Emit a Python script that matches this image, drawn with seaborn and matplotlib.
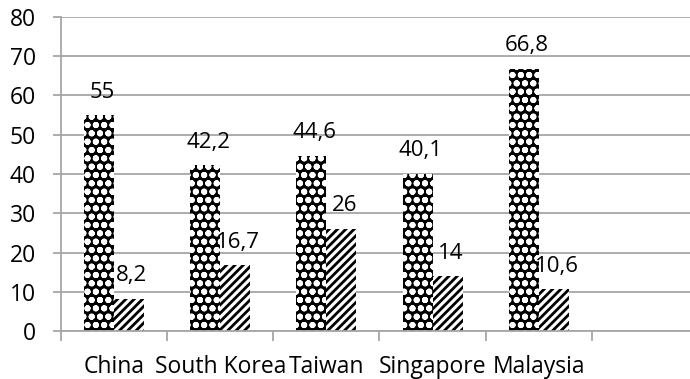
import matplotlib
matplotlib.use("Agg")
import matplotlib.pyplot as plt
import seaborn as sns
import pandas as pd
import numpy as np

# Data
countries = ["China", "South Korea", "Taiwan", "Singapore", "Malaysia", ""]
series_1 = [55, 42.2, 44.6, 40.1, 66.8]
series_2 = [8.2, 16.7, 26, 14, 10.6]
y_ticks = [0, 10, 20, 30, 40, 50, 60, 70, 80]

df = pd.DataFrame({
    "country": countries[:5] * 2,
    "value": series_1 + series_2,
    "series": ["Series 1"] * 5 + ["Series 2"] * 5,
})

sns.set_theme(style="white")
plt.rcParams["font.family"] = ["Open Sans", "DejaVu Sans"]
plt.rcParams["hatch.linewidth"] = 2.0

grid_col = "#a6a6a6"
fs = 16.5

fig = plt.figure(figsize=(6.9, 3.79), dpi=100)
ax = fig.add_axes([61 / 690, 1 - 331 / 379, 637 / 690, (331 - 17) / 379])

sns.barplot(data=df, x="country", y="value", hue="series", order=countries,
            hue_order=["Series 1", "Series 2"], width=0.565,
            palette=["black", "white"], legend=False, ax=ax, saturation=1)

# Pattern fills: dotted checker on the first series, diagonal stripes on the second
for container, face, hatch_col, hatch in zip(ax.containers,
                                             ["black", "white"],
                                             ["white", "black"],
                                             ["oo", "////"]):
    for bar in container:
        bar.set_facecolor(face)
        bar.set_edgecolor(hatch_col)
        bar.set_hatch(hatch)
        bar.set_linewidth(0)
        h = bar.get_height()
        ax.annotate(("%g" % h).replace(".", ","),
                    xy=(bar.get_x() + bar.get_width() / 2, h),
                    xytext=(2, 9), textcoords="offset points",
                    ha="center", va="bottom", fontsize=16, color="black")

ax.set_xlim(-0.5, 5.5)
ax.set_ylim(0, 80)
ax.set_yticks(y_ticks)
ax.set_yticklabels([str(t) for t in y_ticks], fontsize=fs)
ax.set_xticks(range(6))
ax.set_xticklabels(countries, fontsize=fs)
ax.set_xticks(np.arange(-0.5, 6.0, 1.0), minor=True)
ax.set_xlabel("")
ax.set_ylabel("")

ax.yaxis.grid(True, color=grid_col, linewidth=1.3)
ax.set_axisbelow(True)
for side in ["top", "right"]:
    ax.spines[side].set_visible(False)
for side in ["left", "bottom"]:
    ax.spines[side].set_color(grid_col)
    ax.spines[side].set_linewidth(1.3)

ax.tick_params(axis="y", which="major", length=6, width=1.3, color=grid_col,
               pad=12, left=True, labelcolor="black")
ax.tick_params(axis="x", which="major", length=0, pad=17, labelcolor="black")
ax.tick_params(axis="x", which="minor", length=7, width=1.3, color=grid_col,
               bottom=True, direction="out")

fig.savefig("out.png", dpi=100)
